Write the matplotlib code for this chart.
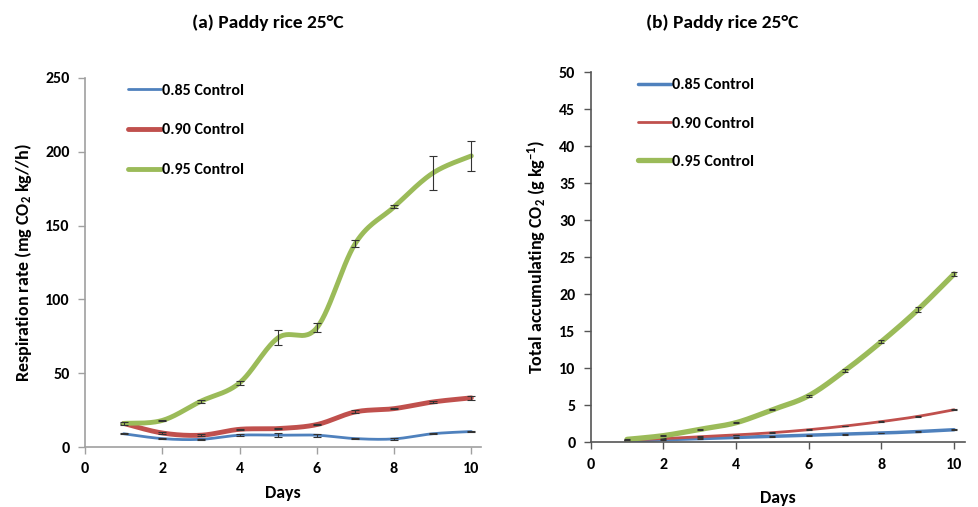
import numpy as np
import matplotlib
matplotlib.use("Agg")
import matplotlib.pyplot as plt

plt.rcParams['font.family'] = ['Carlito', 'DejaVu Sans']
plt.rcParams['font.weight'] = 'bold'
plt.rcParams['mathtext.fontset'] = 'custom'
plt.rcParams['mathtext.rm'] = 'Carlito:bold'
plt.rcParams['mathtext.bf'] = 'Carlito:bold'
plt.rcParams['mathtext.it'] = 'Carlito:bold'

days = [1, 2, 3, 4, 5, 6, 7, 8, 9, 10]
labels = ['0.85 Control', '0.90 Control', '0.95 Control']

# respiration rate, mg CO2 / kg / h
resp_085 = [9, 5.7, 5.2, 8, 8, 8, 5.7, 5.5, 9, 10.5]
resp_090 = [16, 9.5, 8, 12, 12.5, 15.2, 23.8, 26, 30.5, 33.3]
resp_095 = [16, 18, 31, 43.4, 74, 80.7, 138, 162.6, 185.5, 197.2]
resp_085_err = [0.5, 0.5, 0.5, 0.5, 1.5, 1.0, 0.5, 0.5, 0.5, 0.5]
resp_090_err = [0.5, 0.5, 0.5, 0.5, 0.5, 0.5, 1.0, 0.5, 0.5, 1.5]
resp_095_err = [1.0, 0.5, 1.0, 1.5, 5.0, 3.0, 2.5, 1.0, 11.5, 10.0]

# total accumulated CO2, g / kg
acc_085 = [0.2, 0.35, 0.5, 0.65, 0.8, 0.95, 1.1, 1.25, 1.45, 1.7]
acc_090 = [0.3, 0.5, 0.75, 1.0, 1.3, 1.7, 2.2, 2.8, 3.5, 4.4]
acc_095 = [0.4, 0.9, 1.75, 2.65, 4.4, 6.3, 9.7, 13.6, 17.9, 22.75]
acc_085_err = [0.05] * 10
acc_090_err = [0.05] * 10
acc_095_err = [0.05, 0.05, 0.05, 0.1, 0.1, 0.15, 0.2, 0.2, 0.35, 0.3]

colors = ['#4F81BD', '#C0504D', '#9BBB59']


def smooth(x, y, n=30):
    # excel style smoothed line: bezier segments with catmull-rom handles
    x = np.asarray(x, float)
    y = np.asarray(y, float)
    pts = np.column_stack([x, y])
    out = []
    t = np.linspace(0, 1, n)[:, None]
    for i in range(len(pts) - 1):
        p0 = pts[max(i - 1, 0)]
        p1 = pts[i]
        p2 = pts[i + 1]
        p3 = pts[min(i + 2, len(pts) - 1)]
        c1 = p1 + (p2 - p0) / 6
        c2 = p2 - (p3 - p1) / 6
        seg = ((1 - t) ** 3) * p1 + 3 * ((1 - t) ** 2) * t * c1 + 3 * (1 - t) * t ** 2 * c2 + t ** 3 * p2
        out.append(seg if i == 0 else seg[1:])
    seg = np.vstack(out)
    return seg[:, 0], seg[:, 1]


def style_axes(ax, spine_col):
    for s in ['top', 'right']:
        ax.spines[s].set_visible(False)
    for s in ['left', 'bottom']:
        ax.spines[s].set_color(spine_col)
        ax.spines[s].set_linewidth(1.2)
    ax.tick_params(axis='both', colors=spine_col, length=5, width=1.0,
                   labelcolor='black', labelsize=11.5, pad=6)
    ax.set_xticks([0, 2, 4, 6, 8, 10])
    for lab in ax.get_xticklabels() + ax.get_yticklabels():
        lab.set_fontweight('bold')


fig = plt.figure(figsize=(9.79, 5.07), dpi=100)
ax1 = fig.add_axes([0.0868, 0.1183, 0.4045, 0.728])
ax2 = fig.add_axes([0.6034, 0.1276, 0.3823, 0.7298])

# (a) respiration rate
series_a = [resp_085, resp_090, resp_095]
errs_a = [resp_085_err, resp_090_err, resp_095_err]
widths_a = [2.0, 3.5, 3.5]
for vals, err, col, lw, lab in zip(series_a, errs_a, colors, widths_a, labels):
    sx, sy = smooth(days, vals)
    ax1.plot(sx, sy, color=col, lw=lw, label=lab, solid_capstyle='round')
    ax1.errorbar(days, vals, yerr=err, fmt='none', ecolor='#333333',
                 elinewidth=0.8, capsize=3, capthick=0.8)
ax1.set_xlim(0, 10.25)
ax1.set_ylim(0, 250)
ax1.set_yticks(np.arange(0, 251, 50))
style_axes(ax1, '#a0a0a0')
ax1.set_xlabel('Days', fontsize=13, fontweight='bold', labelpad=6)
ax1.set_ylabel('Respiration rate (mg CO$_2$ kg//h)', fontsize=13,
               fontweight='bold', labelpad=8)
ax1.legend(loc='upper left', bbox_to_anchor=(0.08, 1.015), frameon=False,
           handlelength=2.1, handletextpad=0.05,
           labelspacing=1.6, borderaxespad=0.3,
           prop={'weight': 'bold', 'size': 11.5})

# (b) total accumulated CO2
series_b = [acc_085, acc_090, acc_095]
errs_b = [acc_085_err, acc_090_err, acc_095_err]
widths_b = [2.5, 2.0, 3.8]
for vals, err, col, lw, lab in zip(series_b, errs_b, colors, widths_b, labels):
    sx, sy = smooth(days, vals)
    ax2.plot(sx, sy, color=col, lw=lw, label=lab, solid_capstyle='round')
    ax2.errorbar(days, vals, yerr=err, fmt='none', ecolor='#333333',
                 elinewidth=0.8, capsize=2.5, capthick=0.8)
ax2.set_xlim(0, 10.3)
ax2.set_ylim(0, 50)
ax2.set_yticks(np.arange(0, 51, 5))
style_axes(ax2, '#555555')
ax2.set_xlabel('Days', fontsize=13, fontweight='bold', labelpad=13)
ax2.set_ylabel('Total accumulating CO$_2$ (g kg$^{-1}$)', fontsize=13,
               fontweight='bold', labelpad=8)
ax2.legend(loc='upper left', bbox_to_anchor=(0.1, 1.01), frameon=False,
           handlelength=2.1, handletextpad=0.05,
           labelspacing=1.5, borderaxespad=0.2,
           prop={'weight': 'bold', 'size': 11.5})

fig.text(0.274, 0.955, '(a) Paddy rice 25°C', ha='center', va='center',
         fontsize=14, fontweight='bold')
fig.text(0.738, 0.955, '(b) Paddy rice 25°C', ha='center', va='center',
         fontsize=14, fontweight='bold')

fig.savefig('out.png', dpi=100)
